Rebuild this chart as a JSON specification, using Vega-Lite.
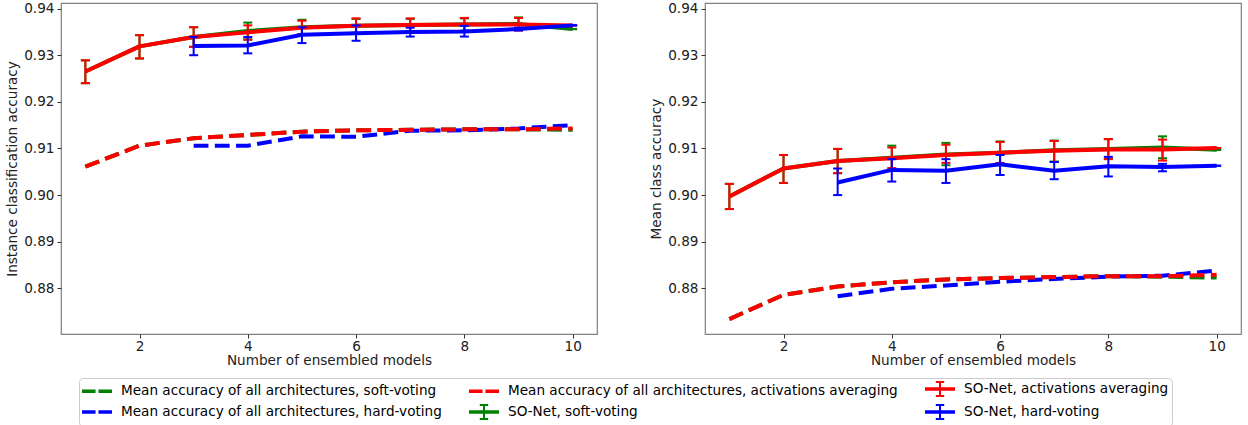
{
"$schema":"https://vega.github.io/schema/vega-lite/v6.json",
"padding":{"left":5,"top":0,"right":0,"bottom":0},
"bounds":"flush",
"spacing":108,
"datasets":{
"inst":[
{"s":"Mean accuracy of all architectures, soft-voting","n":1,"acc":0.9061},
{"s":"Mean accuracy of all architectures, soft-voting","n":2,"acc":0.9106},
{"s":"Mean accuracy of all architectures, soft-voting","n":3,"acc":0.9122},
{"s":"Mean accuracy of all architectures, soft-voting","n":4,"acc":0.9129},
{"s":"Mean accuracy of all architectures, soft-voting","n":5,"acc":0.9136},
{"s":"Mean accuracy of all architectures, soft-voting","n":6,"acc":0.9139},
{"s":"Mean accuracy of all architectures, soft-voting","n":7,"acc":0.9140},
{"s":"Mean accuracy of all architectures, soft-voting","n":8,"acc":0.9141},
{"s":"Mean accuracy of all architectures, soft-voting","n":9,"acc":0.9141},
{"s":"Mean accuracy of all architectures, soft-voting","n":10,"acc":0.9140},
{"s":"Mean accuracy of all architectures, hard-voting","n":3,"acc":0.9106},
{"s":"Mean accuracy of all architectures, hard-voting","n":4,"acc":0.9106},
{"s":"Mean accuracy of all architectures, hard-voting","n":5,"acc":0.9126},
{"s":"Mean accuracy of all architectures, hard-voting","n":6,"acc":0.9125},
{"s":"Mean accuracy of all architectures, hard-voting","n":7,"acc":0.9138},
{"s":"Mean accuracy of all architectures, hard-voting","n":8,"acc":0.9139},
{"s":"Mean accuracy of all architectures, hard-voting","n":9,"acc":0.9143},
{"s":"Mean accuracy of all architectures, hard-voting","n":10,"acc":0.9150},
{"s":"Mean accuracy of all architectures, activations averaging","n":1,"acc":0.9061},
{"s":"Mean accuracy of all architectures, activations averaging","n":2,"acc":0.9106},
{"s":"Mean accuracy of all architectures, activations averaging","n":3,"acc":0.9122},
{"s":"Mean accuracy of all architectures, activations averaging","n":4,"acc":0.9129},
{"s":"Mean accuracy of all architectures, activations averaging","n":5,"acc":0.9136},
{"s":"Mean accuracy of all architectures, activations averaging","n":6,"acc":0.9139},
{"s":"Mean accuracy of all architectures, activations averaging","n":7,"acc":0.9140},
{"s":"Mean accuracy of all architectures, activations averaging","n":8,"acc":0.9141},
{"s":"Mean accuracy of all architectures, activations averaging","n":9,"acc":0.9141},
{"s":"Mean accuracy of all architectures, activations averaging","n":10,"acc":0.9143},
{"s":"SO-Net, soft-voting","n":1,"acc":0.9265,"lo":0.9240,"hi":0.9289},
{"s":"SO-Net, soft-voting","n":2,"acc":0.9319,"lo":0.9293,"hi":0.9343},
{"s":"SO-Net, soft-voting","n":3,"acc":0.9339,"lo":0.9318,"hi":0.9360},
{"s":"SO-Net, soft-voting","n":4,"acc":0.9352,"lo":0.9334,"hi":0.9370},
{"s":"SO-Net, soft-voting","n":5,"acc":0.9360,"lo":0.9345,"hi":0.9376},
{"s":"SO-Net, soft-voting","n":6,"acc":0.9363,"lo":0.9348,"hi":0.9378},
{"s":"SO-Net, soft-voting","n":7,"acc":0.9365,"lo":0.9352,"hi":0.9378},
{"s":"SO-Net, soft-voting","n":8,"acc":0.9366,"lo":0.9353,"hi":0.9379},
{"s":"SO-Net, soft-voting","n":9,"acc":0.9367,"lo":0.9355,"hi":0.9381},
{"s":"SO-Net, soft-voting","n":10,"acc":0.9356,"lo":0.9356,"hi":0.9356},
{"s":"SO-Net, activations averaging","n":1,"acc":0.9265,"lo":0.9240,"hi":0.9289},
{"s":"SO-Net, activations averaging","n":2,"acc":0.9319,"lo":0.9293,"hi":0.9343},
{"s":"SO-Net, activations averaging","n":3,"acc":0.9339,"lo":0.9318,"hi":0.9360},
{"s":"SO-Net, activations averaging","n":4,"acc":0.9349,"lo":0.9333,"hi":0.9364},
{"s":"SO-Net, activations averaging","n":5,"acc":0.9359,"lo":0.9344,"hi":0.9374},
{"s":"SO-Net, activations averaging","n":6,"acc":0.9363,"lo":0.9348,"hi":0.9379},
{"s":"SO-Net, activations averaging","n":7,"acc":0.9365,"lo":0.9352,"hi":0.9379},
{"s":"SO-Net, activations averaging","n":8,"acc":0.9366,"lo":0.9352,"hi":0.9380},
{"s":"SO-Net, activations averaging","n":9,"acc":0.9366,"lo":0.9353,"hi":0.9380},
{"s":"SO-Net, activations averaging","n":10,"acc":0.9364,"lo":0.9364,"hi":0.9364},
{"s":"SO-Net, hard-voting","n":3,"acc":0.9320,"lo":0.9300,"hi":0.9339},
{"s":"SO-Net, hard-voting","n":4,"acc":0.9321,"lo":0.9304,"hi":0.9339},
{"s":"SO-Net, hard-voting","n":5,"acc":0.9344,"lo":0.9326,"hi":0.9360},
{"s":"SO-Net, hard-voting","n":6,"acc":0.9347,"lo":0.9331,"hi":0.9364},
{"s":"SO-Net, hard-voting","n":7,"acc":0.9350,"lo":0.9340,"hi":0.9359},
{"s":"SO-Net, hard-voting","n":8,"acc":0.9351,"lo":0.9340,"hi":0.9363},
{"s":"SO-Net, hard-voting","n":9,"acc":0.9356,"lo":0.9353,"hi":0.9359},
{"s":"SO-Net, hard-voting","n":10,"acc":0.9364,"lo":0.9364,"hi":0.9364}
],
"cls":[
{"s":"Mean accuracy of all architectures, soft-voting","n":1,"acc":0.8734},
{"s":"Mean accuracy of all architectures, soft-voting","n":2,"acc":0.8786},
{"s":"Mean accuracy of all architectures, soft-voting","n":3,"acc":0.8804},
{"s":"Mean accuracy of all architectures, soft-voting","n":4,"acc":0.8813},
{"s":"Mean accuracy of all architectures, soft-voting","n":5,"acc":0.8819},
{"s":"Mean accuracy of all architectures, soft-voting","n":6,"acc":0.8822},
{"s":"Mean accuracy of all architectures, soft-voting","n":7,"acc":0.8824},
{"s":"Mean accuracy of all architectures, soft-voting","n":8,"acc":0.8826},
{"s":"Mean accuracy of all architectures, soft-voting","n":9,"acc":0.8825},
{"s":"Mean accuracy of all architectures, soft-voting","n":10,"acc":0.8823},
{"s":"Mean accuracy of all architectures, hard-voting","n":3,"acc":0.8783},
{"s":"Mean accuracy of all architectures, hard-voting","n":4,"acc":0.8799},
{"s":"Mean accuracy of all architectures, hard-voting","n":5,"acc":0.8806},
{"s":"Mean accuracy of all architectures, hard-voting","n":6,"acc":0.8814},
{"s":"Mean accuracy of all architectures, hard-voting","n":7,"acc":0.8820},
{"s":"Mean accuracy of all architectures, hard-voting","n":8,"acc":0.8825},
{"s":"Mean accuracy of all architectures, hard-voting","n":9,"acc":0.8827},
{"s":"Mean accuracy of all architectures, hard-voting","n":10,"acc":0.8838},
{"s":"Mean accuracy of all architectures, activations averaging","n":1,"acc":0.8734},
{"s":"Mean accuracy of all architectures, activations averaging","n":2,"acc":0.8786},
{"s":"Mean accuracy of all architectures, activations averaging","n":3,"acc":0.8804},
{"s":"Mean accuracy of all architectures, activations averaging","n":4,"acc":0.8813},
{"s":"Mean accuracy of all architectures, activations averaging","n":5,"acc":0.8819},
{"s":"Mean accuracy of all architectures, activations averaging","n":6,"acc":0.8822},
{"s":"Mean accuracy of all architectures, activations averaging","n":7,"acc":0.8824},
{"s":"Mean accuracy of all architectures, activations averaging","n":8,"acc":0.8826},
{"s":"Mean accuracy of all architectures, activations averaging","n":9,"acc":0.8826},
{"s":"Mean accuracy of all architectures, activations averaging","n":10,"acc":0.8829},
{"s":"SO-Net, soft-voting","n":1,"acc":0.8997,"lo":0.8970,"hi":0.9024},
{"s":"SO-Net, soft-voting","n":2,"acc":0.9057,"lo":0.9026,"hi":0.9086},
{"s":"SO-Net, soft-voting","n":3,"acc":0.9073,"lo":0.9047,"hi":0.9099},
{"s":"SO-Net, soft-voting","n":4,"acc":0.9080,"lo":0.9055,"hi":0.9106},
{"s":"SO-Net, soft-voting","n":5,"acc":0.9087,"lo":0.9064,"hi":0.9112},
{"s":"SO-Net, soft-voting","n":6,"acc":0.9091,"lo":0.9068,"hi":0.9115},
{"s":"SO-Net, soft-voting","n":7,"acc":0.9096,"lo":0.9072,"hi":0.9117},
{"s":"SO-Net, soft-voting","n":8,"acc":0.9099,"lo":0.9078,"hi":0.9120},
{"s":"SO-Net, soft-voting","n":9,"acc":0.9102,"lo":0.9079,"hi":0.9126},
{"s":"SO-Net, soft-voting","n":10,"acc":0.9097,"lo":0.9097,"hi":0.9097},
{"s":"SO-Net, activations averaging","n":1,"acc":0.8997,"lo":0.8970,"hi":0.9024},
{"s":"SO-Net, activations averaging","n":2,"acc":0.9057,"lo":0.9026,"hi":0.9086},
{"s":"SO-Net, activations averaging","n":3,"acc":0.9073,"lo":0.9047,"hi":0.9099},
{"s":"SO-Net, activations averaging","n":4,"acc":0.9079,"lo":0.9058,"hi":0.9102},
{"s":"SO-Net, activations averaging","n":5,"acc":0.9086,"lo":0.9069,"hi":0.9108},
{"s":"SO-Net, activations averaging","n":6,"acc":0.9091,"lo":0.9069,"hi":0.9114},
{"s":"SO-Net, activations averaging","n":7,"acc":0.9095,"lo":0.9071,"hi":0.9116},
{"s":"SO-Net, activations averaging","n":8,"acc":0.9098,"lo":0.9077,"hi":0.9120},
{"s":"SO-Net, activations averaging","n":9,"acc":0.9098,"lo":0.9074,"hi":0.9119},
{"s":"SO-Net, activations averaging","n":10,"acc":0.9101,"lo":0.9101,"hi":0.9101},
{"s":"SO-Net, hard-voting","n":3,"acc":0.9027,"lo":0.9000,"hi":0.9057},
{"s":"SO-Net, hard-voting","n":4,"acc":0.9054,"lo":0.9029,"hi":0.9077},
{"s":"SO-Net, hard-voting","n":5,"acc":0.9052,"lo":0.9026,"hi":0.9077},
{"s":"SO-Net, hard-voting","n":6,"acc":0.9066,"lo":0.9043,"hi":0.9086},
{"s":"SO-Net, hard-voting","n":7,"acc":0.9052,"lo":0.9034,"hi":0.9071},
{"s":"SO-Net, hard-voting","n":8,"acc":0.9062,"lo":0.9040,"hi":0.9082},
{"s":"SO-Net, hard-voting","n":9,"acc":0.9060,"lo":0.9051,"hi":0.9067},
{"s":"SO-Net, hard-voting","n":10,"acc":0.9063,"lo":0.9063,"hi":0.9063}
]
},
"hconcat":[
{
"width":536,"height":331,
"data":{"name":"inst"},
"encoding":{
"x":{"field":"n","type":"quantitative","scale":{"domain":[0.55,10.45],"nice":false,"zero":false},"axis":{"values":[2,4,6,8,10],"format":"d","title":"Number of ensembled models","labelPadding":1,"titlePadding":1}},
"y":{"field":"acc","type":"quantitative","scale":{"domain":[0.8702,0.9412],"nice":false,"zero":false},"axis":{"values":[0.88,0.89,0.9,0.91,0.92,0.93,0.94],"format":".2f","title":"Instance classification accuracy"}}
},
"layer":[
{"mark":{"type":"point","filled":false,"opacity":0,"strokeWidth":2},
 "encoding":{
  "color":{"field":"s","type":"nominal",
   "scale":{"domain":["Mean accuracy of all architectures, soft-voting","Mean accuracy of all architectures, hard-voting","Mean accuracy of all architectures, activations averaging","SO-Net, soft-voting","SO-Net, activations averaging","SO-Net, hard-voting"],
            "range":["#008000","#0000ff","#ff0000","#008000","#ff0000","#0000ff"]},
   "legend":{"title":null,"orient":"none","legendX":18,"legendY":375,"columns":3,"columnPadding":24,"rowPadding":1,"symbolSize":196,"symbolOffset":7,"labelOffset":16,"labelFontSize":13.6,"labelFont":"DejaVu Sans","labelColor":"#000000","labelLimit":1000,"padding":3,"strokeColor":"#cccccc","fillColor":"#ffffff","cornerRadius":4,"symbolStrokeWidth":2}},
  "shape":{"field":"s","type":"nominal",
   "scale":{"domain":["Mean accuracy of all architectures, soft-voting","Mean accuracy of all architectures, hard-voting","Mean accuracy of all architectures, activations averaging","SO-Net, soft-voting","SO-Net, activations averaging","SO-Net, hard-voting"],
            "range":["M-2,-0.1H-0.35V0.1H-2ZM0.35,-0.1H2V0.1H0.35Z","M-2,-0.1H-0.35V0.1H-2ZM0.35,-0.1H2V0.1H0.35Z","M-2,-0.1H-0.35V0.1H-2ZM0.35,-0.1H2V0.1H0.35Z","M-2,-0.1H2V0.1H-2ZM0,-1V1M-0.6,-1H0.6M-0.6,1H0.6","M-2,-0.1H2V0.1H-2ZM0,-1V1M-0.6,-1H0.6M-0.6,1H0.6","M-2,-0.1H2V0.1H-2ZM0,-1V1M-0.6,-1H0.6M-0.6,1H0.6"]},
   "legend":{"title":null,"orient":"none","legendX":18,"legendY":375,"columns":3,"columnPadding":24,"rowPadding":1,"symbolSize":196,"symbolOffset":7,"labelOffset":16,"labelFontSize":13.6,"labelFont":"DejaVu Sans","labelColor":"#000000","labelLimit":1000,"padding":3,"strokeColor":"#cccccc","fillColor":"#ffffff","cornerRadius":4,"symbolStrokeWidth":2}}
 }},
{"transform":[{"filter":{"field":"s","equal":"Mean accuracy of all architectures, soft-voting"}}],"mark":{"type":"line","color":"#008000","strokeWidth":4,"strokeDash":[14.8,6.4],"strokeJoin":"round"},"encoding":{}},
{"transform":[{"filter":{"field":"s","equal":"Mean accuracy of all architectures, hard-voting"}}],"mark":{"type":"line","color":"#0000ff","strokeWidth":4,"strokeDash":[14.8,6.4],"strokeJoin":"round"},"encoding":{}},
{"transform":[{"filter":{"field":"s","equal":"Mean accuracy of all architectures, activations averaging"}}],"mark":{"type":"line","color":"#ff0000","strokeWidth":4,"strokeDash":[14.8,6.4],"strokeJoin":"round"},"encoding":{}},
{"transform":[{"filter":{"field":"s","equal":"SO-Net, soft-voting"}}],"mark":{"type":"line","color":"#008000","strokeWidth":4,"strokeJoin":"round"},"encoding":{}},
{"transform":[{"filter":{"field":"s","equal":"SO-Net, soft-voting"}}],"mark":{"type":"rule","color":"#008000","strokeWidth":2},"encoding":{"y":{"field":"lo","type":"quantitative","scale":{"domain":[0.8702,0.9412],"nice":false,"zero":false},"axis":{"values":[0.88,0.89,0.9,0.91,0.92,0.93,0.94],"format":".2f","title":"Instance classification accuracy"}},"y2":{"field":"hi"}}},
{"transform":[{"filter":{"field":"s","equal":"SO-Net, soft-voting"}}],"mark":{"type":"tick","orient":"horizontal","color":"#008000","size":9,"thickness":2,"opacity":1},"encoding":{"y":{"field":"lo","type":"quantitative","scale":{"domain":[0.8702,0.9412],"nice":false,"zero":false},"axis":{"values":[0.88,0.89,0.9,0.91,0.92,0.93,0.94],"format":".2f","title":"Instance classification accuracy"}}}},
{"transform":[{"filter":{"field":"s","equal":"SO-Net, soft-voting"}}],"mark":{"type":"tick","orient":"horizontal","color":"#008000","size":9,"thickness":2,"opacity":1},"encoding":{"y":{"field":"hi","type":"quantitative","scale":{"domain":[0.8702,0.9412],"nice":false,"zero":false},"axis":{"values":[0.88,0.89,0.9,0.91,0.92,0.93,0.94],"format":".2f","title":"Instance classification accuracy"}}}},
{"transform":[{"filter":{"field":"s","equal":"SO-Net, activations averaging"}}],"mark":{"type":"line","color":"#ff0000","strokeWidth":4,"strokeJoin":"round"},"encoding":{}},
{"transform":[{"filter":{"field":"s","equal":"SO-Net, activations averaging"}}],"mark":{"type":"rule","color":"#ff0000","strokeWidth":2},"encoding":{"y":{"field":"lo","type":"quantitative","scale":{"domain":[0.8702,0.9412],"nice":false,"zero":false},"axis":{"values":[0.88,0.89,0.9,0.91,0.92,0.93,0.94],"format":".2f","title":"Instance classification accuracy"}},"y2":{"field":"hi"}}},
{"transform":[{"filter":{"field":"s","equal":"SO-Net, activations averaging"}}],"mark":{"type":"tick","orient":"horizontal","color":"#ff0000","size":9,"thickness":2,"opacity":1},"encoding":{"y":{"field":"lo","type":"quantitative","scale":{"domain":[0.8702,0.9412],"nice":false,"zero":false},"axis":{"values":[0.88,0.89,0.9,0.91,0.92,0.93,0.94],"format":".2f","title":"Instance classification accuracy"}}}},
{"transform":[{"filter":{"field":"s","equal":"SO-Net, activations averaging"}}],"mark":{"type":"tick","orient":"horizontal","color":"#ff0000","size":9,"thickness":2,"opacity":1},"encoding":{"y":{"field":"hi","type":"quantitative","scale":{"domain":[0.8702,0.9412],"nice":false,"zero":false},"axis":{"values":[0.88,0.89,0.9,0.91,0.92,0.93,0.94],"format":".2f","title":"Instance classification accuracy"}}}},
{"transform":[{"filter":{"field":"s","equal":"SO-Net, hard-voting"}}],"mark":{"type":"line","color":"#0000ff","strokeWidth":4,"strokeJoin":"round"},"encoding":{}},
{"transform":[{"filter":{"field":"s","equal":"SO-Net, hard-voting"}}],"mark":{"type":"rule","color":"#0000ff","strokeWidth":2},"encoding":{"y":{"field":"lo","type":"quantitative","scale":{"domain":[0.8702,0.9412],"nice":false,"zero":false},"axis":{"values":[0.88,0.89,0.9,0.91,0.92,0.93,0.94],"format":".2f","title":"Instance classification accuracy"}},"y2":{"field":"hi"}}},
{"transform":[{"filter":{"field":"s","equal":"SO-Net, hard-voting"}}],"mark":{"type":"tick","orient":"horizontal","color":"#0000ff","size":9,"thickness":2,"opacity":1},"encoding":{"y":{"field":"lo","type":"quantitative","scale":{"domain":[0.8702,0.9412],"nice":false,"zero":false},"axis":{"values":[0.88,0.89,0.9,0.91,0.92,0.93,0.94],"format":".2f","title":"Instance classification accuracy"}}}},
{"transform":[{"filter":{"field":"s","equal":"SO-Net, hard-voting"}}],"mark":{"type":"tick","orient":"horizontal","color":"#0000ff","size":9,"thickness":2,"opacity":1},"encoding":{"y":{"field":"hi","type":"quantitative","scale":{"domain":[0.8702,0.9412],"nice":false,"zero":false},"axis":{"values":[0.88,0.89,0.9,0.91,0.92,0.93,0.94],"format":".2f","title":"Instance classification accuracy"}}}}
]
},
{
"width":536,"height":331,
"data":{"name":"cls"},
"encoding":{
"x":{"field":"n","type":"quantitative","scale":{"domain":[0.55,10.45],"nice":false,"zero":false},"axis":{"values":[2,4,6,8,10],"format":"d","title":"Number of ensembled models","labelPadding":1,"titlePadding":1}},
"y":{"field":"acc","type":"quantitative","scale":{"domain":[0.8702,0.9412],"nice":false,"zero":false},"axis":{"values":[0.88,0.89,0.9,0.91,0.92,0.93,0.94],"format":".2f","title":"Mean class accuracy"}}
},
"layer":[
{"transform":[{"filter":{"field":"s","equal":"Mean accuracy of all architectures, soft-voting"}}],"mark":{"type":"line","color":"#008000","strokeWidth":4,"strokeDash":[14.8,6.4],"strokeJoin":"round"},"encoding":{}},
{"transform":[{"filter":{"field":"s","equal":"Mean accuracy of all architectures, hard-voting"}}],"mark":{"type":"line","color":"#0000ff","strokeWidth":4,"strokeDash":[14.8,6.4],"strokeJoin":"round"},"encoding":{}},
{"transform":[{"filter":{"field":"s","equal":"Mean accuracy of all architectures, activations averaging"}}],"mark":{"type":"line","color":"#ff0000","strokeWidth":4,"strokeDash":[14.8,6.4],"strokeJoin":"round"},"encoding":{}},
{"transform":[{"filter":{"field":"s","equal":"SO-Net, soft-voting"}}],"mark":{"type":"line","color":"#008000","strokeWidth":4,"strokeJoin":"round"},"encoding":{}},
{"transform":[{"filter":{"field":"s","equal":"SO-Net, soft-voting"}}],"mark":{"type":"rule","color":"#008000","strokeWidth":2},"encoding":{"y":{"field":"lo","type":"quantitative","scale":{"domain":[0.8702,0.9412],"nice":false,"zero":false},"axis":{"values":[0.88,0.89,0.9,0.91,0.92,0.93,0.94],"format":".2f","title":"Mean class accuracy"}},"y2":{"field":"hi"}}},
{"transform":[{"filter":{"field":"s","equal":"SO-Net, soft-voting"}}],"mark":{"type":"tick","orient":"horizontal","color":"#008000","size":9,"thickness":2,"opacity":1},"encoding":{"y":{"field":"lo","type":"quantitative","scale":{"domain":[0.8702,0.9412],"nice":false,"zero":false},"axis":{"values":[0.88,0.89,0.9,0.91,0.92,0.93,0.94],"format":".2f","title":"Mean class accuracy"}}}},
{"transform":[{"filter":{"field":"s","equal":"SO-Net, soft-voting"}}],"mark":{"type":"tick","orient":"horizontal","color":"#008000","size":9,"thickness":2,"opacity":1},"encoding":{"y":{"field":"hi","type":"quantitative","scale":{"domain":[0.8702,0.9412],"nice":false,"zero":false},"axis":{"values":[0.88,0.89,0.9,0.91,0.92,0.93,0.94],"format":".2f","title":"Mean class accuracy"}}}},
{"transform":[{"filter":{"field":"s","equal":"SO-Net, activations averaging"}}],"mark":{"type":"line","color":"#ff0000","strokeWidth":4,"strokeJoin":"round"},"encoding":{}},
{"transform":[{"filter":{"field":"s","equal":"SO-Net, activations averaging"}}],"mark":{"type":"rule","color":"#ff0000","strokeWidth":2},"encoding":{"y":{"field":"lo","type":"quantitative","scale":{"domain":[0.8702,0.9412],"nice":false,"zero":false},"axis":{"values":[0.88,0.89,0.9,0.91,0.92,0.93,0.94],"format":".2f","title":"Mean class accuracy"}},"y2":{"field":"hi"}}},
{"transform":[{"filter":{"field":"s","equal":"SO-Net, activations averaging"}}],"mark":{"type":"tick","orient":"horizontal","color":"#ff0000","size":9,"thickness":2,"opacity":1},"encoding":{"y":{"field":"lo","type":"quantitative","scale":{"domain":[0.8702,0.9412],"nice":false,"zero":false},"axis":{"values":[0.88,0.89,0.9,0.91,0.92,0.93,0.94],"format":".2f","title":"Mean class accuracy"}}}},
{"transform":[{"filter":{"field":"s","equal":"SO-Net, activations averaging"}}],"mark":{"type":"tick","orient":"horizontal","color":"#ff0000","size":9,"thickness":2,"opacity":1},"encoding":{"y":{"field":"hi","type":"quantitative","scale":{"domain":[0.8702,0.9412],"nice":false,"zero":false},"axis":{"values":[0.88,0.89,0.9,0.91,0.92,0.93,0.94],"format":".2f","title":"Mean class accuracy"}}}},
{"transform":[{"filter":{"field":"s","equal":"SO-Net, hard-voting"}}],"mark":{"type":"line","color":"#0000ff","strokeWidth":4,"strokeJoin":"round"},"encoding":{}},
{"transform":[{"filter":{"field":"s","equal":"SO-Net, hard-voting"}}],"mark":{"type":"rule","color":"#0000ff","strokeWidth":2},"encoding":{"y":{"field":"lo","type":"quantitative","scale":{"domain":[0.8702,0.9412],"nice":false,"zero":false},"axis":{"values":[0.88,0.89,0.9,0.91,0.92,0.93,0.94],"format":".2f","title":"Mean class accuracy"}},"y2":{"field":"hi"}}},
{"transform":[{"filter":{"field":"s","equal":"SO-Net, hard-voting"}}],"mark":{"type":"tick","orient":"horizontal","color":"#0000ff","size":9,"thickness":2,"opacity":1},"encoding":{"y":{"field":"lo","type":"quantitative","scale":{"domain":[0.8702,0.9412],"nice":false,"zero":false},"axis":{"values":[0.88,0.89,0.9,0.91,0.92,0.93,0.94],"format":".2f","title":"Mean class accuracy"}}}},
{"transform":[{"filter":{"field":"s","equal":"SO-Net, hard-voting"}}],"mark":{"type":"tick","orient":"horizontal","color":"#0000ff","size":9,"thickness":2,"opacity":1},"encoding":{"y":{"field":"hi","type":"quantitative","scale":{"domain":[0.8702,0.9412],"nice":false,"zero":false},"axis":{"values":[0.88,0.89,0.9,0.91,0.92,0.93,0.94],"format":".2f","title":"Mean class accuracy"}}}}
]
}
],
"config":{
"font":"DejaVu Sans",
"view":{"stroke":"#808080","strokeWidth":1.2},
"axis":{"grid":false,"domain":false,"tickColor":"#333333","tickSize":4,"tickWidth":1,"labelFontSize":13.6,"titleFontSize":13.6,"titleFontWeight":"normal","labelColor":"#222222","titleColor":"#222222","labelPadding":3,"titlePadding":4,"labelFont":"DejaVu Sans","titleFont":"DejaVu Sans"},
"legend":{"symbolStrokeWidth":2}
}
}
